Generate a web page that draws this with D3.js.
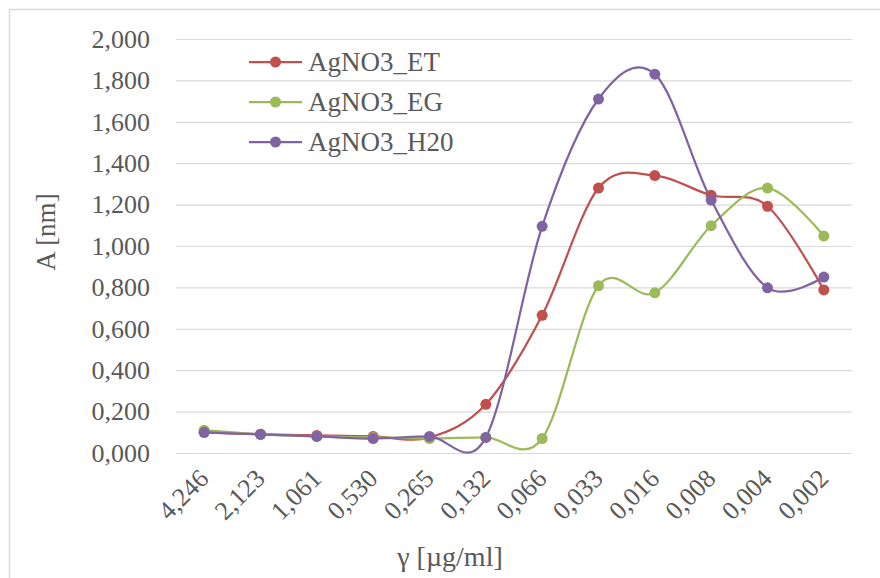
<!DOCTYPE html>
<html>
<head>
<meta charset="utf-8">
<script src="https://cdn.jsdelivr.net/npm/d3@7"></script>
<style>
    body { margin: 0; background: #fff; }
    svg { display: block; }
</style>
</head>
<body>
<div id="chart"></div>
<script>
    const categories = ['4,246', '2,123', '1,061', '0,530', '0,265', '0,132', '0,066', '0,033', '0,016', '0,008', '0,004', '0,002'];
    const seriesNames = ['AgNO3_ET', 'AgNO3_EG', 'AgNO3_H20'];
    const etValues = [0.100, 0.090, 0.085, 0.080, 0.075, 0.235, 0.665, 1.280, 1.340, 1.245, 1.192, 0.788];
    const egValues = [0.110, 0.090, 0.080, 0.075, 0.070, 0.075, 0.070, 0.808, 0.774, 1.098, 1.280, 1.048];
    const h2oValues = [0.100, 0.090, 0.080, 0.070, 0.080, 0.075, 1.095, 1.710, 1.830, 1.222, 0.798, 0.850];
    const yTicks = [0, 0.2, 0.4, 0.6, 0.8, 1.0, 1.2, 1.4, 1.6, 1.8, 2.0];
    const yTickLabels = ['0,000', '0,200', '0,400', '0,600', '0,800', '1,000', '1,200', '1,400', '1,600', '1,800', '2,000'];

    const COLORS = ['#C0504D', '#9BBB59', '#8064A2'];
    const FONT = '"Liberation Serif"';
    const TEXT = '#595959';

    const W = 880, H = 578;
    const margin = { top: 39, right: 28, bottom: 125, left: 176 };
    const width = W - margin.left - margin.right;
    const height = H - margin.top - margin.bottom;

    const svg = d3.select('#chart').append('svg')
        .attr('width', W)
        .attr('height', H)
        .style('font-family', FONT);

    // chart area border
    svg.append('rect')
        .attr('x', 9.5).attr('y', 9.5)
        .attr('width', W).attr('height', H)
        .attr('fill', 'none')
        .attr('stroke', '#d9d9d9')
        .attr('stroke-width', 1.5);

    const g = svg.append('g')
        .attr('transform', `translate(${margin.left},${margin.top})`);

    const x = d3.scaleBand()
        .domain(categories)
        .range([0, width]);

    const y = d3.scaleLinear()
        .domain([0, 2])
        .range([height, 0]);

    // gridlines + y labels
    const yAxis = d3.axisLeft(y)
        .tickValues(yTicks)
        .tickSize(-width)
        .tickPadding(26)
        .tickFormat((d, i) => yTickLabels[i]);

    const yG = g.append('g').call(yAxis);
    yG.select('.domain').remove();
    yG.selectAll('.tick line').attr('stroke', '#d9d9d9').attr('stroke-width', 1.2);
    yG.selectAll('.tick text')
        .style('font-family', FONT)
        .style('font-size', '26px')
        .attr('fill', TEXT);

    // x axis labels
    const xG = g.append('g')
        .attr('transform', `translate(0,${height})`)
        .call(d3.axisBottom(x).tickSize(0).tickPadding(0));
    xG.select('.domain').remove();
    xG.selectAll('.tick text')
        .style('font-family', FONT)
        .style('font-size', '26px')
        .attr('fill', TEXT)
        .attr('text-anchor', 'end')
        .attr('dy', 0)
        .attr('transform', 'translate(6,27) rotate(-45)');

    // axis titles
    svg.append('text')
        .attr('x', 450)
        .attr('y', 566)
        .attr('text-anchor', 'middle')
        .style('font-family', FONT)
        .style('font-size', '28px')
        .attr('fill', TEXT)
        .text('γ [µg/ml]');

    svg.append('text')
        .attr('transform', 'translate(55,232) rotate(-90)')
        .attr('text-anchor', 'middle')
        .style('font-family', FONT)
        .style('font-size', '27px')
        .attr('fill', TEXT)
        .text('A [nm]');

    // series
    const allSeries = [etValues, egValues, h2oValues];
    const line = d3.line()
        .x((d, i) => x(categories[i]) + x.bandwidth() / 2)
        .y(d => y(d))
        .curve(d3.curveCardinal.tension(0));

    allSeries.forEach((vals, s) => {
        g.append('path')
            .datum(vals)
            .attr('fill', 'none')
            .attr('stroke', COLORS[s])
            .attr('stroke-width', 2.25)
            .attr('d', line);
    });

    allSeries.forEach((vals, s) => {
        g.append('g').selectAll('circle')
            .data(vals)
            .enter()
            .append('circle')
            .attr('cx', (d, i) => x(categories[i]) + x.bandwidth() / 2)
            .attr('cy', d => y(d))
            .attr('r', 5.5)
            .attr('fill', COLORS[s]);
    });

    // legend
    const legend = svg.append('g')
        .attr('transform', 'translate(249,62)');

    const legendItem = legend.selectAll('.legend-item')
        .data(seriesNames)
        .enter()
        .append('g')
        .attr('class', 'legend-item')
        .attr('transform', (d, i) => `translate(0,${i * 40})`);

    legendItem.append('line')
        .attr('x1', 0).attr('x2', 53)
        .attr('stroke', (d, i) => COLORS[i])
        .attr('stroke-width', 2.25);

    legendItem.append('circle')
        .attr('cx', 26.5)
        .attr('r', 5.5)
        .attr('fill', (d, i) => COLORS[i]);

    legendItem.append('text')
        .attr('x', 59)
        .attr('dy', '0.35em')
        .style('font-family', FONT)
        .style('font-size', '27px')
        .attr('fill', TEXT)
        .text(d => d);
</script>
</body>
</html>
